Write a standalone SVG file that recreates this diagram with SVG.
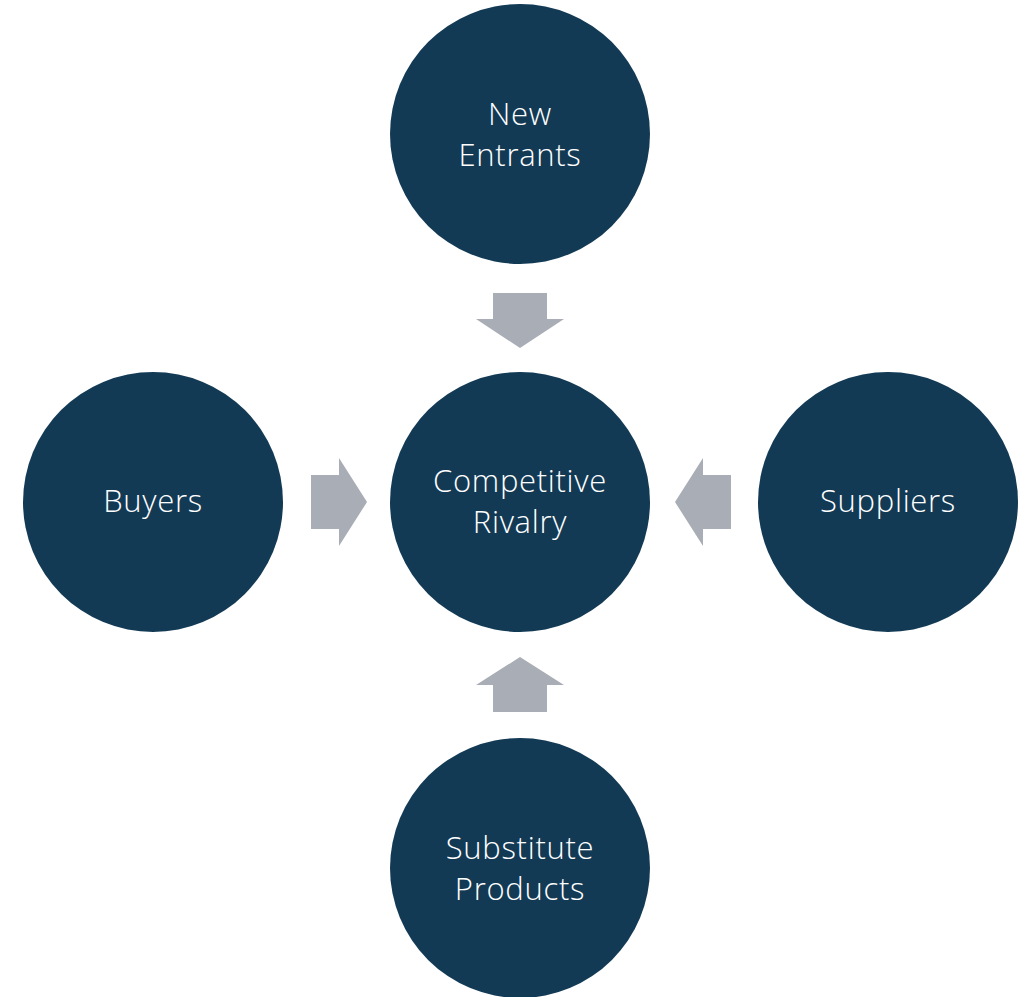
<svg xmlns="http://www.w3.org/2000/svg" width="1022" height="997" viewBox="0 0 1022 997">
<style>
.node{fill:#133A55}
.lbl{fill:#FFFFFF;font-family:"Open Sans","Liberation Sans",sans-serif;font-size:31px;font-weight:300;letter-spacing:0.7px;text-anchor:middle}
.arr{fill:#A9ADB5}
</style>
<rect width="1022" height="997" fill="#FFFFFF"/>
<g id="connectors">
<polygon class="arr" points="493,293 547,293 547,319 564,319 520,348 476,319 493,319"/>
<polygon class="arr" points="311,475 339,475 339,458 367,502 339,546 339,529 311,529"/>
<polygon class="arr" points="731,475 703,475 703,458 675,502 703,546 703,529 731,529"/>
<polygon class="arr" points="493,712 547,712 547,685 564,685 520,657 476,685 493,685"/>
</g>
<g id="new-entrants">
<circle class="node" cx="520" cy="134" r="130"/>
<text class="lbl" x="520" y="125">New</text>
<text class="lbl" x="520" y="166">Entrants</text>
</g>
<g id="competitive-rivalry">
<circle class="node" cx="520" cy="502" r="130"/>
<text class="lbl" x="520" y="492">Competitive</text>
<text class="lbl" x="520" y="533">Rivalry</text>
</g>
<g id="buyers">
<circle class="node" cx="153" cy="502" r="130"/>
<text class="lbl" x="153" y="512">Buyers</text>
</g>
<g id="suppliers">
<circle class="node" cx="888" cy="502" r="130"/>
<text class="lbl" x="888" y="512">Suppliers</text>
</g>
<g id="substitute-products">
<circle class="node" cx="520" cy="868" r="130"/>
<text class="lbl" x="520" y="859">Substitute</text>
<text class="lbl" x="520" y="900">Products</text>
</g>
</svg>
